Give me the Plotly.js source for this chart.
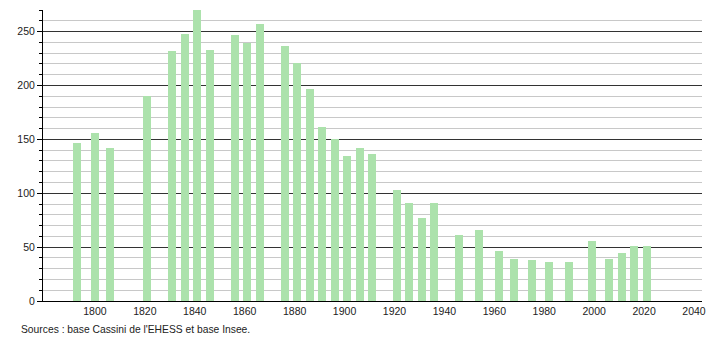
<!DOCTYPE html>
<html>
<head>
<meta charset="utf-8">
<script src="https://cdn.plot.ly/plotly-3.0.1.min.js"></script>
<style>html,body{margin:0;padding:0;background:#fff;}#chart{width:710px;height:340px;}</style>
</head>
<body>
<div id="chart"></div>
<script>
const years = [1793, 1800, 1806, 1821, 1831, 1836, 1841, 1846, 1856, 1861, 1866, 1876, 1881, 1886, 1891, 1896, 1901, 1906, 1911, 1921, 1926, 1931, 1936, 1946, 1954, 1962, 1968, 1975, 1982, 1990, 1999, 2006, 2011, 2016, 2021];
const population = [147, 156, 142, 190, 232, 248, 270, 233, 247, 239, 257, 237, 221, 197, 161, 150, 135, 142, 136, 103, 91, 77, 91, 61, 66, 46, 39, 38, 36, 36, 56, 39, 45, 51, 51];
const xTickValues = [1800, 1820, 1840, 1860, 1880, 1900, 1920, 1940, 1960, 1980, 2000, 2020, 2040];
const yTickValues = [0, 50, 100, 150, 200, 250];
const sourceText = "Sources : base Cassini de l'EHESS et base Insee.";

const trace = {
  type: 'bar',
  x: years,
  y: population,
  width: 3.2,
  marker: {color: 'rgb(172,226,172)', line: {width: 0}},
  hoverinfo: 'x+y'
};

const layout = {
  width: 710, height: 340,
  margin: {l: 43, r: 8, t: 10, b: 39},
  paper_bgcolor: '#fff', plot_bgcolor: '#fff',
  font: {family: 'Liberation Sans, Arial, sans-serif', size: 11, color: '#222'},
  showlegend: false,
  bargap: 0,
  xaxis: {
    range: [1779.2, 2043.2],
    tickvals: xTickValues,
    ticktext: xTickValues.map(String),
    ticks: '', showgrid: false, zeroline: false,
    showline: true, linecolor: '#000', linewidth: 1,
    tickfont: {size: 10.5, color: '#222'}
  },
  yaxis: {
    range: [0, 270],
    tickvals: yTickValues,
    ticktext: yTickValues.map(String),
    ticks: 'outside', ticklen: 5, tickcolor: '#000', tickwidth: 1,
    showgrid: true, gridcolor: '#333', gridwidth: 1,
    zeroline: false,
    showline: true, linecolor: '#000', linewidth: 1,
    tickfont: {size: 10.5, color: '#222'},
    minor: {dtick: 10, tick0: 0, showgrid: true, gridcolor: '#c8c8c8', gridwidth: 1, ticks: 'outside', ticklen: 3, tickcolor: '#000'}
  },
  annotations: [{
    text: sourceText,
    xref: 'paper', yref: 'paper',
    x: -0.036, y: -0.098, xanchor: 'left', yanchor: 'middle',
    showarrow: false,
    font: {size: 10.3, color: '#222'}
  }]
};

Plotly.newPlot('chart', [trace], layout, {staticPlot: true, displayModeBar: false});
</script>
</body>
</html>
